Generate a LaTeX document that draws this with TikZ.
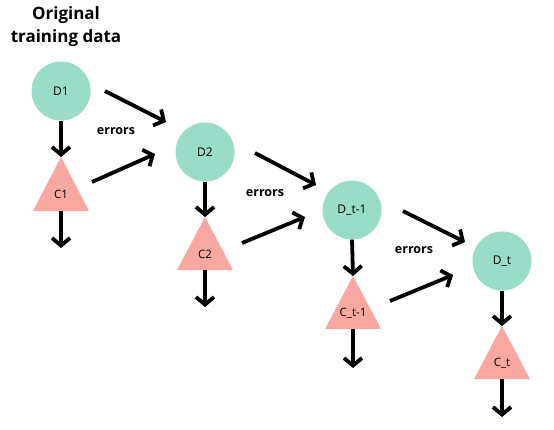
\documentclass[tikz,border=0pt]{standalone}
\usepackage{fontspec}
\setmainfont{Open Sans}
\usetikzlibrary{arrows.meta}
\definecolor{mint}{RGB}{153,220,200}
\definecolor{salmon}{RGB}{248,168,160}
\tikzset{
  dnode/.style={circle,fill=mint,minimum size=59pt,inner sep=0pt,font=\fontsize{12}{14}\selectfont},
  clabel/.style={inner sep=0pt,font=\fontsize{11.5}{13}\selectfont},
  tri/.style={fill=salmon},
  arr/.style={line width=3.8pt,-{Straight Barb[length=7.5pt,width=18pt,line width=3.8pt]}},
  errlab/.style={font=\bfseries\fontsize{12.5}{14}\selectfont,inner sep=0pt},
}
\begin{document}
\begin{tikzpicture}[x=1pt,y=-1pt]
\useasboundingbox (0,0) rectangle (554,429);
% title
\node[font=\bfseries\fontsize{17}{23}\selectfont,align=center] (title) at (66,27) {Original\\training data};
% D nodes
\node[dnode] (d1) at (61,91) {D1};
\node[dnode] (d2) at (205,152) {D2};
\node[dnode] (d3) at (352,210) {D\_t-1};
\node[dnode] (d4) at (502,261) {D\_t};
% triangles
\fill[tri] (61,157) -- (89,211) -- (33,211) -- cycle;
\fill[tri] (205,217) -- (233,270) -- (177,270) -- cycle;
\fill[tri] (353,276) -- (381,329) -- (325,329) -- cycle;
\fill[tri] (502,326) -- (530,379) -- (474,379) -- cycle;
\node[clabel] (c1) at (61,194) {C1};
\node[clabel] (c2) at (205,254) {C2};
\node[clabel] (c3) at (353,313) {C\_t-1};
\node[clabel] (c4) at (502,363) {C\_t};
% apex / base coordinates
\coordinate (c1t) at (61,157); \coordinate (c1b) at (61,211); \coordinate (c1e) at (61,248);
\coordinate (c2t) at (205,217); \coordinate (c2b) at (205,270); \coordinate (c2e) at (205,307);
\coordinate (c3t) at (353,276); \coordinate (c3b) at (353,329); \coordinate (c3e) at (353,368);
\coordinate (c4t) at (502,326); \coordinate (c4b) at (502,379); \coordinate (c4e) at (502,417);
% vertical arrows
\draw[arr] (d1.south) -- (c1t);
\draw[arr] (c1b) -- (c1e);
\draw[arr] (d2.south) -- (c2t);
\draw[arr] (c2b) -- (c2e);
\draw[arr] (d3.south) -- (c3t);
\draw[arr] (c3b) -- (c3e);
\draw[arr] (d4.south) -- (c4t);
\draw[arr] (c4b) -- (c4e);
% diagonal arrow endpoints
\coordinate (a1s) at (105,91);  \coordinate (a1e) at (166,122);
\coordinate (b1s) at (92,182);  \coordinate (b1e) at (155,154);
\coordinate (a2s) at (255,153); \coordinate (a2e) at (316,185);
\coordinate (b2s) at (242,243); \coordinate (b2e) at (305,217);
\coordinate (a3s) at (403,211); \coordinate (a3e) at (465,242);
\coordinate (b3s) at (390,301); \coordinate (b3e) at (453,275);
\draw[arr] (a1s) -- (a1e);
\draw[arr] (b1s) -- (b1e);
\draw[arr] (a2s) -- (a2e);
\draw[arr] (b2s) -- (b2e);
\draw[arr] (a3s) -- (a3e);
\draw[arr] (b3s) -- (b3e);
% errors labels
\node[errlab] (e1) at (116,131) {errors};
\node[errlab] (e2) at (265,193) {errors};
\node[errlab] (e3) at (414,250) {errors};
\end{tikzpicture}
\end{document}
